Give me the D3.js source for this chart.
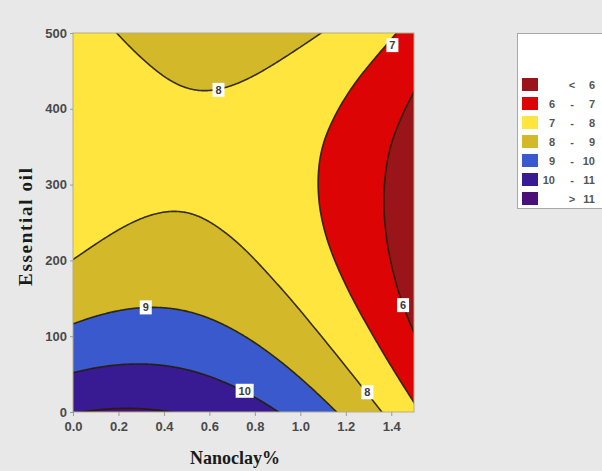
<!DOCTYPE html>
<html>
<head>
<meta charset="utf-8">
<script src="https://cdn.jsdelivr.net/npm/d3@7"></script>
<style>
  body { margin: 0; background: #e8e8e8; }
  text { font-family: "Liberation Sans", Arial, sans-serif; }
</style>
</head>
<body>
<svg width="602" height="471"></svg>
<script>
// grid of the fitted response
var nanoclay = [0, 0.25, 0.5, 0.75, 1.0, 1.25, 1.5];
var essentialOil = [0, 50, 100, 150, 200, 250, 300, 350, 400, 450, 500];
var response = [
  [10.96, 11.09, 10.92, 10.45, 9.66, 8.57, 7.17],
  [10.03, 10.21, 10.09, 9.66, 8.93, 7.89, 6.54],
  [9.23, 9.46, 9.39, 9.01, 8.33, 7.34, 6.04],
  [8.56, 8.84, 8.82, 8.49, 7.86, 6.91, 5.69],
  [8.01, 8.35, 8.38, 8.10, 7.51, 6.62, 5.52],
  [7.60, 7.99, 8.06, 7.83, 7.30, 6.46, 5.48],
  [7.32, 7.75, 7.88, 7.70, 7.22, 6.43, 5.50],
  [7.17, 7.65, 7.83, 7.70, 7.26, 6.52, 5.60],
  [7.14, 7.67, 7.90, 7.82, 7.44, 6.75, 5.85],
  [7.25, 7.83, 8.11, 8.08, 7.74, 7.10, 6.22],
  [7.48, 8.12, 8.44, 8.46, 8.18, 7.59, 6.69]
];

// contour levels and legend
var levels = [6, 7, 8, 9, 10, 11];
var bandColors = ["#99151a", "#dc0404", "#ffe53e", "#d3b92a", "#3a59cd", "#381a92", "#4a1078"];
var legendLow = ["", "6", "7", "8", "9", "10", ""];
var legendSym = ["<", "-", "-", "-", "-", "-", ">"];
var legendHigh = ["6", "7", "8", "9", "10", "11", "11"];

// labels sitting on the contour lines
var contourLabels = [
  { level: "8", x: 0.64, y: 425 },
  { level: "7", x: 1.405, y: 484 },
  { level: "9", x: 0.32, y: 138 },
  { level: "10", x: 0.755, y: 28 },
  { level: "8", x: 1.295, y: 26 },
  { level: "6", x: 1.452, y: 141 }
];

var xTicks = [0, 0.2, 0.4, 0.6, 0.8, 1.0, 1.2, 1.4];
var yTicks = [0, 100, 200, 300, 400, 500];

var svg = d3.select("svg");
var plotLeft = 73, plotRight = 414, plotTop = 33, plotBottom = 412;

var x = d3.scaleLinear().domain([0, 1.5]).range([plotLeft, plotRight]);
var y = d3.scaleLinear().domain([0, 500]).range([plotBottom, plotTop]);

// smooth (catmull-rom) reading of the grid
function cell(r, c) {
  var nr = response.length, nc = response[0].length;
  if (r < 0) return 3 * cell(0, c) - 3 * cell(1, c) + cell(2, c);
  if (r >= nr) return 3 * cell(nr - 1, c) - 3 * cell(nr - 2, c) + cell(nr - 3, c);
  if (c < 0) return 3 * cell(r, 0) - 3 * cell(r, 1) + cell(r, 2);
  if (c >= nc) return 3 * cell(r, nc - 1) - 3 * cell(r, nc - 2) + cell(r, nc - 3);
  return response[r][c];
}
function cr(p0, p1, p2, p3, t) {
  return 0.5 * (2 * p1 + (-p0 + p2) * t + (2 * p0 - 5 * p1 + 4 * p2 - p3) * t * t +
    (-p0 + 3 * p1 - 3 * p2 + p3) * t * t * t);
}
function surface(u, oil) {
  var s = (u - nanoclay[0]) / (nanoclay[1] - nanoclay[0]);
  var q = (oil - essentialOil[0]) / (essentialOil[1] - essentialOil[0]);
  var c = Math.max(0, Math.min(nanoclay.length - 2, Math.floor(s))), tc = s - c;
  var r = Math.max(0, Math.min(essentialOil.length - 2, Math.floor(q))), tr = q - r;
  var rws = [-1, 0, 1, 2].map(function(k) {
    return cr(cell(r + k, c - 1), cell(r + k, c), cell(r + k, c + 1), cell(r + k, c + 2), tc);
  });
  return cr(rws[0], rws[1], rws[2], rws[3], tr);
}

// fine sampling, a bit wider than the plot so edges get clipped away
var nx = 320, ny = 320;
var u0 = -0.03, u1 = 1.53, o0 = -10, o1 = 510;
var du = (u1 - u0) / (nx - 1), dO = (o1 - o0) / (ny - 1);
var values = new Array(nx * ny);
for (var j = 0; j < ny; j++) {
  for (var i = 0; i < nx; i++) {
    values[j * nx + i] = surface(u0 + i * du, o0 + j * dO);
  }
}

var contours = d3.contours().size([nx, ny]).thresholds(levels)(values);

var path = d3.geoPath(d3.geoTransform({
  point: function(gx, gy) {
    this.stream.point(x(u0 + (gx - 0.5) * du), y(o0 + (gy - 0.5) * dO));
  }
}));

svg.append("clipPath").attr("id", "plotClip")
  .append("rect")
    .attr("x", plotLeft).attr("y", plotTop)
    .attr("width", plotRight - plotLeft).attr("height", plotBottom - plotTop);

var plot = svg.append("g").attr("clip-path", "url(#plotClip)");

plot.append("rect")
  .attr("x", plotLeft).attr("y", plotTop)
  .attr("width", plotRight - plotLeft).attr("height", plotBottom - plotTop)
  .attr("fill", bandColors[0]);

plot.selectAll("path.band")
  .data(contours)
  .enter()
    .append("path")
    .attr("class", "band")
    .attr("d", path)
    .attr("fill", function(d, k) { return bandColors[k + 1]; });

plot.selectAll("path.line")
  .data(contours)
  .enter()
    .append("path")
    .attr("class", "line")
    .attr("d", path)
    .attr("fill", "none")
    .attr("stroke", "#241e00")
    .attr("stroke-width", 1.6)
    .attr("stroke-opacity", 0.9);

// frame
svg.append("rect")
  .attr("x", plotLeft).attr("y", plotTop)
  .attr("width", plotRight - plotLeft).attr("height", plotBottom - plotTop)
  .attr("fill", "none")
  .attr("stroke", "#b3ad88")
  .attr("stroke-width", 1);

// contour labels
var lab = svg.selectAll("g.clabel")
  .data(contourLabels)
  .enter()
    .append("g")
    .attr("class", "clabel")
    .attr("transform", function(d) { return "translate(" + x(d.x) + "," + y(d.y) + ")"; });

lab.append("rect")
  .attr("x", function(d) { return d.level.length > 1 ? -9 : -6; })
  .attr("y", -7)
  .attr("width", function(d) { return d.level.length > 1 ? 18 : 12; })
  .attr("height", 14)
  .attr("fill", "white");

lab.append("text")
  .attr("text-anchor", "middle")
  .attr("dy", "0.36em")
  .style("font-size", "11px")
  .style("font-weight", "bold")
  .attr("fill", "#3a3a3a")
  .text(function(d) { return d.level; });

// axes
var xAxis = svg.append("g")
  .attr("transform", "translate(0," + plotBottom + ")")
  .call(d3.axisBottom(x).tickValues(xTicks).tickFormat(d3.format(".1f")).tickSize(4).tickPadding(6));

var yAxis = svg.append("g")
  .attr("transform", "translate(" + plotLeft + ",0)")
  .call(d3.axisLeft(y).tickValues(yTicks).tickSize(3).tickPadding(3));

[xAxis, yAxis].forEach(function(a) {
  a.select(".domain").remove();
  a.selectAll(".tick line").attr("stroke", "#9a9a9a");
  a.selectAll(".tick text")
    .style("font-size", "13px")
    .style("font-weight", "bold")
    .style("font-family", "\"Liberation Sans\", Arial, sans-serif")
    .attr("fill", "#4a4a4a");
});

// axis titles
svg.append("text")
  .attr("x", 235)
  .attr("y", 464)
  .attr("text-anchor", "middle")
  .style("font-family", "\"Liberation Serif\", \"Times New Roman\", serif")
  .style("font-size", "18px")
  .style("font-weight", "bold")
  .attr("fill", "#1a1a1a")
  .text("Nanoclay%");

svg.append("text")
  .attr("transform", "translate(32,227) rotate(-90)")
  .attr("text-anchor", "middle")
  .attr("textLength", 118)
  .attr("lengthAdjust", "spacing")
  .style("font-family", "\"Liberation Serif\", \"Times New Roman\", serif")
  .style("font-size", "19px")
  .style("font-weight", "bold")
  .attr("fill", "#1a1a1a")
  .text("Essential oil");

// legend
var legend = svg.append("g");
legend.append("rect")
  .attr("x", 517.5).attr("y", 33.5)
  .attr("width", 100).attr("height", 175)
  .attr("fill", "white")
  .attr("stroke", "#a8a8a8");

var rows = legend.selectAll("g.row")
  .data(bandColors)
  .enter()
    .append("g")
    .attr("class", "row")
    .attr("transform", function(d, k) { return "translate(0," + (78 + 19 * k) + ")"; });

rows.append("rect")
  .attr("x", 522).attr("width", 16).attr("height", 13)
  .attr("fill", function(d) { return d; });

rows.append("text")
  .attr("x", 555).attr("y", 10.5)
  .attr("text-anchor", "end")
  .text(function(d, k) { return legendLow[k]; });

rows.append("text")
  .attr("x", 572).attr("y", 10.5)
  .attr("text-anchor", "middle")
  .text(function(d, k) { return legendSym[k]; });

rows.append("text")
  .attr("x", 595).attr("y", 10.5)
  .attr("text-anchor", "end")
  .text(function(d, k) { return legendHigh[k]; });

rows.selectAll("text")
  .style("font-size", "11px")
  .style("font-weight", "bold")
  .attr("fill", "#555");
</script>
</body>
</html>
